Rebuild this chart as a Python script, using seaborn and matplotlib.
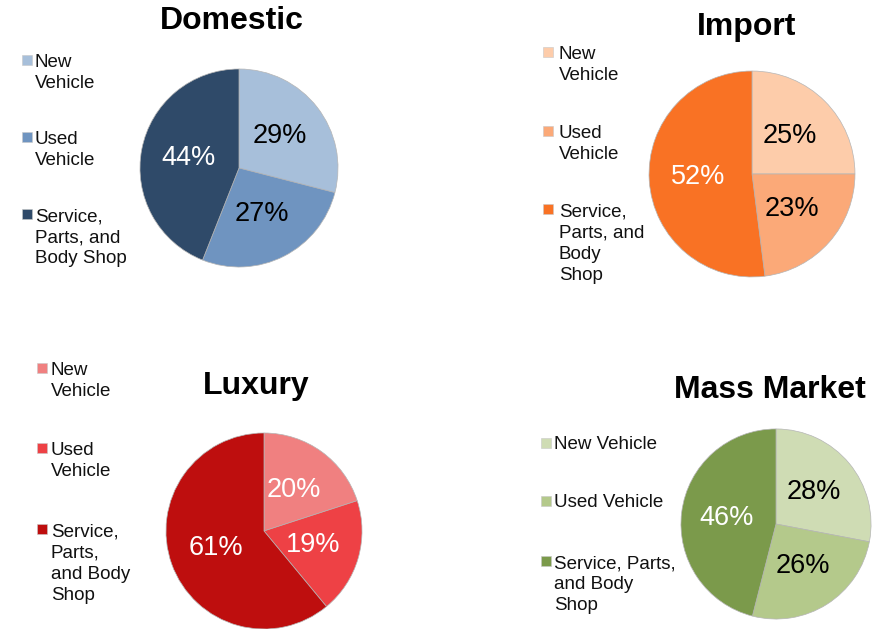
import matplotlib
matplotlib.use("Agg")
import matplotlib.pyplot as plt
from matplotlib.patches import Rectangle
import seaborn as sns

# segment shares (%) per dealer type
segments = ["New Vehicle", "Used Vehicle", "Service, Parts, and Body Shop"]
domestic = [29, 27, 44]
import_ = [25, 23, 52]
luxury = [20, 19, 61]
mass_market = [28, 26, 46]

domestic_colors = ["#A7BFDA", "#6F94C0", "#2F4A69"]
import_colors = ["#FDCCAA", "#FBA978", "#F97224"]
luxury_colors = ["#F08080", "#EE4145", "#BE0E0E"]
mass_colors = ["#CFDCB4", "#B4C98B", "#7B9A4B"]

# legend labels wrap differently in each panel
domestic_labels = ["New\nVehicle", "Used\nVehicle", "Service,\nParts, and\nBody Shop"]
import_labels = ["New\nVehicle", "Used\nVehicle", "Service,\nParts, and\nBody\nShop"]
luxury_labels = ["New\nVehicle", "Used\nVehicle", "Service,\nParts,\nand Body\nShop"]
mass_labels = ["New Vehicle", "Used Vehicle", "Service, Parts,\nand Body\nShop"]

W, H = 873, 629
LINE_PX = 21.6
sns.set_theme(style="white")
plt.rcParams["font.family"] = ["Liberation Sans", "DejaVu Sans"]

fig = plt.figure(figsize=(W / 100, H / 100), dpi=100)


def px(x, y):
    return x / W, 1 - y / H


def draw_panel(values, colors, labels, title, pct_colors, center, radius,
               title_pos, legend_x, legend_base, square_x):
    cx, cy = center
    ax = fig.add_axes([(cx - radius) / W, 1 - (cy + radius) / H,
                       2 * radius / W, 2 * radius / H])
    wedges, _, autotexts = ax.pie(
        values, colors=sns.color_palette(colors), startangle=90,
        counterclock=False, autopct=lambda p: f"{p:.0f}%",
        pctdistance=0.52,
        wedgeprops=dict(edgecolor="#b5b5b5", linewidth=0.5),
        textprops=dict(fontsize=19.5),
    )
    for t, c in zip(autotexts, pct_colors):
        t.set_color(c)
    ax.set_xlim(-1.01, 1.01)
    ax.set_ylim(-1.01, 1.01)
    ax.set_aspect("equal")
    ax.axis("off")

    tx, ty = px(*title_pos)
    fig.text(tx, ty, title, ha="center", va="baseline",
             fontsize=23, fontweight="bold", color="black")

    for lab, col, base in zip(labels, colors, legend_base):
        n = lab.count("\n")
        # baseline alignment sits on the last line, so shift down
        x, y = px(legend_x, base + n * LINE_PX)
        fig.text(x, y, lab, ha="left", va="baseline", fontsize=13.5,
                 linespacing=1.31, color="#111111")
        sx, sy = px(square_x, base - 1)
        fig.patches.append(Rectangle((sx, sy), 10 / W, 10 / H,
                                     transform=fig.transFigure,
                                     facecolor=col, edgecolor="#c8c8c8",
                                     linewidth=0.4))


draw_panel(domestic, domestic_colors, domestic_labels, "Domestic",
           ["black", "black", "white"], (239, 168), 100,
           (232, 29), 35, [66, 143, 220], 22)
draw_panel(import_, import_colors, import_labels, "Import",
           ["black", "black", "white"], (752, 174), 104,
           (747, 35), 559, [58, 137, 215], 543)
draw_panel(luxury, luxury_colors, luxury_labels, "Luxury",
           ["white", "white", "white"], (264, 531), 99,
           (256, 394), 51, [374, 454, 535], 37)
draw_panel(mass_market, mass_colors, mass_labels, "Mass Market",
           ["black", "black", "white"], (776, 524), 96,
           (770, 398), 554, [449, 507, 567], 541)

fig.savefig("out.png", dpi=100)
plt.close(fig)
